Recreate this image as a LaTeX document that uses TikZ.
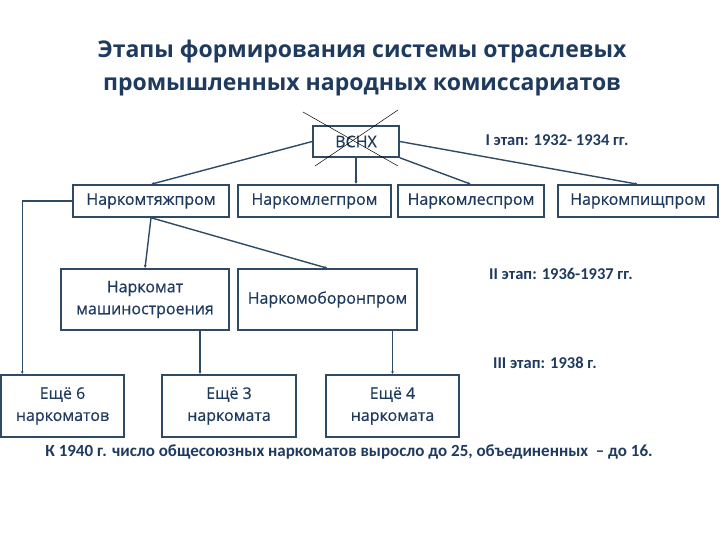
\documentclass[tikz,border=0pt]{standalone}
\usepackage{fontspec}
\setmainfont{Open Sans}
\newfontfamily\boxfont{Open Sans}[FakeBold=0.6]
\newfontfamily\labelfont{Carlito}
\usetikzlibrary{calc}
\usetikzlibrary{arrows.meta}
\definecolor{navy}{HTML}{1F3A5F}
\definecolor{edge}{HTML}{2F4A63}
\tikzset{
  komissar/.style={draw=edge,line width=1.5pt,fill=white,text=navy,align=center,
    inner sep=2pt,font=\boxfont\fontsize{16}{22}\selectfont},
  link/.style={draw=edge,line width=1.4pt,-{Latex[length=3pt,width=3pt]}},
  etap/.style={text=navy,font=\labelfont\bfseries\fontsize{16.5}{20}\selectfont},
}
\begin{document}
\begin{tikzpicture}[x=1pt,y=-1pt]
            \useasboundingbox (0,0) rectangle (720,540);
            \node[text=navy,align=center,font=\bfseries\fontsize{23}{33}\selectfont] (title) at (362,68.5)
                {Этапы формирования системы отраслевых\\промышленных народных комиссариатов};
            % I этап
            \node[komissar,minimum width=86pt,minimum height=31pt] (vsnh) at (356,141.5) {ВСНХ};
            \draw[black,line width=0.5pt] (303,112) -- (398,166);
            \draw[black,line width=0.5pt] (398,110) -- (315,166);
            \node[etap] (st1) at (557,140) {I этап: 1932- 1934 гг.};
            \node[komissar,minimum width=156pt,minimum height=32pt] (tyazh) at (151,201) {Наркомтяжпром};
            \node[komissar,minimum width=153pt,minimum height=32pt] (leg) at (314.5,201) {Наркомлегпром};
            \node[komissar,minimum width=146pt,minimum height=32pt] (les) at (471,201) {Наркомлеспром};
            \node[komissar,minimum width=160pt,minimum height=32pt] (pishch) at (638,201) {Наркомпищпром};
            \draw[link] (vsnh.west) -- (tyazh.north);
            \draw[link] (vsnh.south) -- (vsnh.south |- leg.north);
            \draw[link] (vsnh.south east) -- (les.north);
            \draw[link] (vsnh.east) -- (pishch.north);
            % II этап
            \node[etap] (st2) at (561,274) {II этап: 1936-1937 гг.};
            \node[komissar,minimum width=168pt,minimum height=61pt] (mash) at (145,299.5) {Наркомат\\машиностроения};
            \node[komissar,minimum width=179pt,minimum height=61pt] (oboron) at (327.5,299.5) {Наркомоборонпром};
            \draw[link] (tyazh.south) -- (mash.north);
            \draw[link] (tyazh.south) -- (oboron.north);
            % III этап
            \node[etap] (st3) at (545,363) {III этап: 1938 г.};
            \node[komissar,minimum width=123pt,minimum height=62pt] (esche6) at (62.5,406) {Ещё 6\\наркоматов};
            \node[komissar,minimum width=134pt,minimum height=62pt] (esche3) at (229,406) {Ещё 3\\наркомата};
            \node[komissar,minimum width=133pt,minimum height=62pt] (esche4) at (392.5,406) {Ещё 4\\наркомата};
            \draw[link] (tyazh.west) -| ([xshift=22pt]esche6.north west);
            \draw[link] ([xshift=55pt]mash.south) -- ([xshift=55pt]mash.south |- esche3.north);
            \draw[link] (esche4.north |- oboron.south) -- (esche4.north);
            \node[etap,font=\labelfont\bfseries\fontsize{17}{20}\selectfont] (total) at (349,452)
                {К 1940 г. число общесоюзных наркоматов выросло до 25, объединенных~ – до 16.};
\end{tikzpicture}
\end{document}
